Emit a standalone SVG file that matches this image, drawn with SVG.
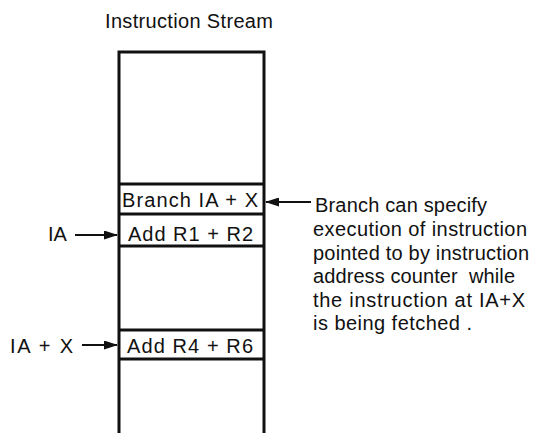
<svg xmlns="http://www.w3.org/2000/svg" width="536" height="433" viewBox="0 0 536 433">
<style>
text{font-family:"Liberation Sans",Arial,sans-serif;font-size:20px;fill:#111}
.b{stroke:#111;stroke-width:3;fill:none}
.c{stroke:#111;stroke-width:1.8;fill:none}
</style>
<defs>
<marker id="ah" markerWidth="14" markerHeight="9" refX="13" refY="4.5" orient="auto" markerUnits="userSpaceOnUse">
<path d="M0,0 L14,4.5 L0,9 Z" fill="#111"/>
</marker>
</defs>
<rect width="536" height="433" fill="#fff"/>
<text x="105" y="28" textLength="168" lengthAdjust="spacing">Instruction Stream</text>
<g id="stream">
<path class="b" d="M119,433 V52 H264 V433"/>
</g>
<g id="branch">
<path class="b" d="M119,184 H264 M119,214 H264"/>
<text x="122" y="207" textLength="136" lengthAdjust="spacing">Branch IA + X</text>
</g>
<g id="add12">
<path class="b" d="M119,246 H264"/>
<text x="128" y="241" textLength="125" lengthAdjust="spacing">Add R1 + R2</text>
</g>
<g id="add46">
<path class="b" d="M119,330 H264 M119,359 H264"/>
<text x="127" y="353" textLength="126" lengthAdjust="spacing">Add R4 + R6</text>
</g>
<g id="labelIA"><text x="48" y="241">IA</text></g>
<g id="labelIAX"><text x="10" y="353" textLength="63" lengthAdjust="spacing">IA + X</text></g>
<g id="note">
<text x="315" y="212" textLength="172" lengthAdjust="spacing">Branch can specify</text>
<text x="313" y="236" textLength="214" lengthAdjust="spacing">execution of instruction</text>
<text x="313" y="260" textLength="216" lengthAdjust="spacing">pointed to by instruction</text>
<text x="313" y="283" textLength="202" lengthAdjust="spacing" xml:space="preserve">address counter  while</text>
<text x="313" y="307" textLength="212" lengthAdjust="spacing">the instruction at IA+X</text>
<text x="313" y="330" textLength="159" lengthAdjust="spacing">is being fetched .</text>
</g>
<g id="connectors">
<line class="c" x1="75" y1="235" x2="117" y2="235" marker-end="url(#ah)"/>
<line class="c" x1="82" y1="345" x2="117" y2="345" marker-end="url(#ah)"/>
<line class="c" x1="311" y1="202" x2="266" y2="202" marker-end="url(#ah)"/>
</g>
</svg>
